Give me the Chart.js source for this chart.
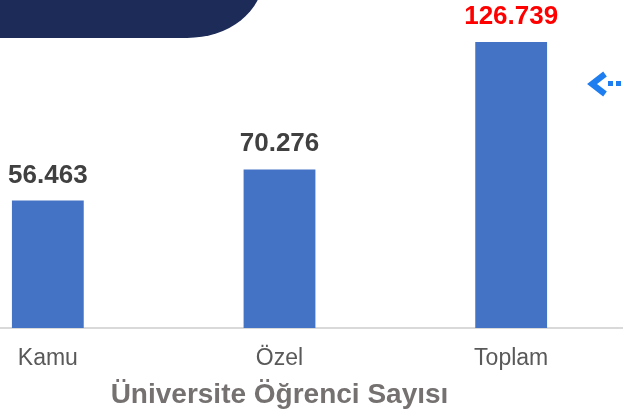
<!DOCTYPE html>
<html>
<head>
<meta charset="utf-8">
<script src="https://cdn.jsdelivr.net/npm/chart.js@4"></script>
<style>
  html, body { margin: 0; padding: 0; width: 623px; height: 420px; overflow: hidden; background: #fff; }
  .wrap { position: absolute; left: -68px; top: 0; width: 695px; height: 420px; }
  .banner { position: absolute; left: 0; top: -22px; width: 263px; height: 60px; background: #1c2b57; border-bottom-right-radius: 76px 60px; z-index: 2; }
  .arrow { position: absolute; left: 586px; top: 70px; z-index: 2; }
</style>
</head>
<body>
<div class="banner"></div>
<svg class="arrow" width="40" height="28" viewBox="0 0 40 28">
  <polyline points="19,4 6,14 19,24" fill="none" stroke="#1e7ef0" stroke-width="6" stroke-linejoin="miter"/>
  <rect x="22" y="11" width="5" height="5" fill="#1e7ef0"/>
  <rect x="30" y="11" width="5" height="5" fill="#1e7ef0"/>
  <rect x="38" y="11" width="5" height="5" fill="#1e7ef0"/>
</svg>
<div class="wrap"><canvas class="grafico"></canvas></div>
<script>
const canvas = document.querySelector('.grafico');

const categorias = ["Kamu", "Özel", "Toplam"];
const ogrenciler = [56463, 70276, 126739];
const etiketRenk = ["#404040", "#404040", "#ff0000"];
const baslik = "Üniversite Öğrenci Sayısı";

const formatNumero = (n) => n.toLocaleString('tr-TR');

const etiketler = {
    id: 'etiketler',
    afterDatasetsDraw(chart) {
        const ctx = chart.ctx;
        const meta = chart.getDatasetMeta(0);
        ctx.save();
        ctx.font = "bold 26px 'Liberation Sans', Arial, sans-serif";
        ctx.textAlign = 'center';
        ctx.textBaseline = 'alphabetic';
        meta.data.forEach((bar, i) => {
            ctx.fillStyle = etiketRenk[i];
            ctx.fillText(formatNumero(ogrenciler[i]), bar.x, bar.y - 18);
        });
        ctx.restore();
    }
};

const config = {
    type: "bar",
    data: {
        labels: categorias,
        datasets: [{
            data: ogrenciler,
            backgroundColor: "#4472c4",
            categoryPercentage: 1,
            barPercentage: 0.31
        }]
    },
    options: {
        responsive: true,
        maintainAspectRatio: false,
        animation: false,
        layout: { padding: { top: 12, left: 0, right: 0, bottom: 0 } },
        plugins: { legend: { display: false }, tooltip: { enabled: false } },
        scales: {
            y: { display: false, min: 0, max: 140000 },
            x: {
                grid: { display: false, drawTicks: false },
                border: { color: "#d9d9d9", width: 2 },
                ticks: { color: "#595959", padding: 17, font: { family: "'Liberation Sans', Arial, sans-serif", size: 23 } },
                title: {
                    display: true,
                    text: baslik,
                    color: "#767171",
                    padding: { top: -11.4, bottom: 8.2 },
                    font: { family: "'Liberation Sans', Arial, sans-serif", size: 28, weight: "bold" }
                }
            }
        }
    },
    plugins: [etiketler]
};

new Chart(canvas, config);
</script>
</body>
</html>
